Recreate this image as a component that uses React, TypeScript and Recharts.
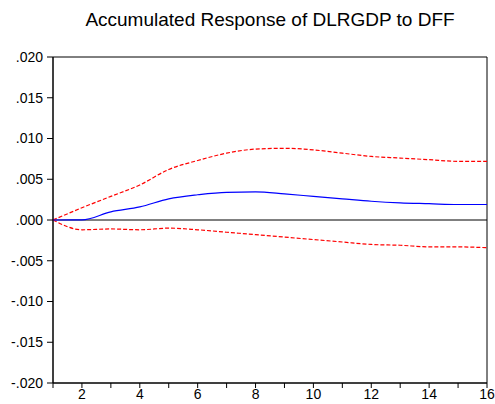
import { LineChart, Line, XAxis, YAxis, ReferenceLine, ReferenceArea } from "recharts";

const periods = [1, 2, 3, 4, 5, 6, 7, 8, 9, 10, 11, 12, 13, 14, 15, 16];
const response = [0, 0.00002, 0.001, 0.0016, 0.0026, 0.0031, 0.0034, 0.00344, 0.0032, 0.0029, 0.0026, 0.0023, 0.0021, 0.002, 0.0019, 0.0019];
const upper = [0, 0.0015, 0.0029, 0.0043, 0.0062, 0.0073, 0.0082, 0.0087, 0.0088, 0.0086, 0.0082, 0.0078, 0.0076, 0.0074, 0.0072, 0.0072];
const lower = [0, -0.0012, -0.0011, -0.0012, -0.001, -0.0012, -0.0015, -0.0018, -0.0021, -0.0024, -0.0027, -0.003, -0.0031, -0.0033, -0.0033, -0.0034];
const yTicks = [-0.02, -0.015, -0.01, -0.005, 0, 0.005, 0.01, 0.015, 0.02];
const xLabels = [2, 4, 6, 8, 10, 12, 14, 16];

const data = periods.map((p, i) => ({ p, response: response[i], upper: upper[i], lower: lower[i] }));

const fmtY = (v: number) => {
  const s = Math.abs(v).toFixed(3).replace(/^0/, "");
  return v < 0 ? "-" + s : s;
};

const font = "'Liberation Sans', Arial, sans-serif";

export default function App() {
  return (
    <div style={{ position: "absolute", left: 0, top: 0, width: 495, height: 404, background: "#fff", fontFamily: font }}>
      <div style={{ position: "absolute", top: 9, left: 53, width: 434, textAlign: "center", fontSize: 19, color: "#000" }}>
        Accumulated Response of DLRGDP to DFF
      </div>
      <LineChart width={495} height={404} data={data} margin={{ top: 57, right: 8, bottom: 0, left: 0 }}>
        <XAxis
          dataKey="p"
          type="number"
          domain={[1, 16]}
          ticks={periods}
          interval={0}
          tickFormatter={(v: number) => (xLabels.includes(v) ? String(v) : "")}
          height={21}
          tickSize={5}
          tickMargin={1}
          stroke="#000"
          tick={{ fill: "#000", fontSize: 14, fontFamily: font }}
        />
        <YAxis
          type="number"
          domain={[-0.02, 0.02]}
          ticks={yTicks}
          interval={0}
          tickFormatter={fmtY}
          width={53}
          tickSize={6}
          tickMargin={4}
          stroke="#000"
          tick={{ fill: "#000", fontSize: 14, fontFamily: font }}
        />
        <ReferenceArea x1={1} x2={16} y1={-0.02} y2={0.02} fill="none" stroke="#000" strokeWidth={1} />
        <ReferenceLine y={0} stroke="#000" strokeWidth={1} />
        <Line dataKey="upper" type="monotone" stroke="#ff0000" strokeWidth={1.2} strokeDasharray="4 2" dot={false} isAnimationActive={false} />
        <Line dataKey="lower" type="monotone" stroke="#ff0000" strokeWidth={1.2} strokeDasharray="4 2" dot={false} isAnimationActive={false} />
        <Line dataKey="response" type="monotone" stroke="#0000ff" strokeWidth={1.2} dot={false} isAnimationActive={false} />
      </LineChart>
    </div>
  );
}
